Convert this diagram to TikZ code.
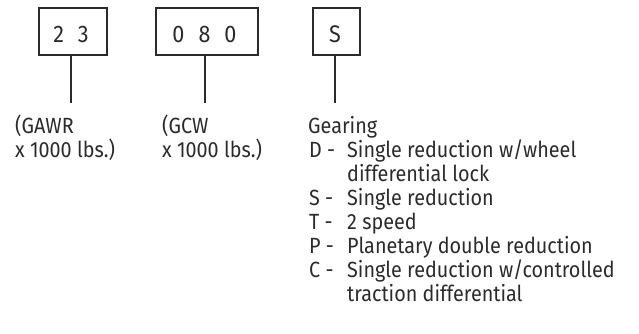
\documentclass[tikz,border=0pt]{standalone}
\usepackage{fontspec}
\setmainfont{Fira Sans}[FakeStretch=0.9]
\definecolor{ink}{HTML}{2B2B2B}
\begin{document}
\begin{tikzpicture}[x=1pt,y=-1pt,color=ink,
  box/.style={draw=ink,line width=2.2pt,inner sep=0pt},
  lead/.style={draw=ink,line width=2pt},
  txt/.style={anchor=base west,inner sep=0pt,text=ink,font=\fontsize{22}{24}\selectfont},
  code/.style={anchor=base,inner sep=0pt,text=ink,font=\fontsize{24}{24}\selectfont}]
\useasboundingbox (0,0) rectangle (639,333);
\node[box,minimum width=68,minimum height=47] (b1) at (73,31.5) {};
\node[code] (t1) at (71,42) {2\hspace{14pt}3};
\node[box,minimum width=102,minimum height=47] (b2) at (207,31.5) {};
\node[code] (t2) at (204.5,42) {0\hspace{14pt}8\hspace{14pt}0};
\node[box,minimum width=47,minimum height=47] (b3) at (336.5,31.5) {};
\node[code] (t3) at (335,42) {S};
\coordinate (e1) at (71,103);
\coordinate (e2) at (205,103);
\coordinate (e3) at (335,103);
\draw[lead] (b1.south -| e1) -- (e1);
\draw[lead] (b2.south -| e2) -- (e2);
\draw[lead] (b3.south -| e3) -- (e3);
\node[txt] (l1a) at (15,133) {(GAWR};
\node[txt] (l1b) at (15,157) {x 1000 lbs.)};
\node[txt] (l2a) at (162,133) {(GCW};
\node[txt] (l2b) at (162,157) {x 1000 lbs.)};
\node[txt] (g0) at (308,133) {Gearing};
\node[txt] (gD) at (309,157) {D -};
\node[txt] (gDt) at (347,157) {Single reduction w/wheel};
\node[txt] (gD2) at (347,181) {differential lock};
\node[txt] (gS) at (309,205) {S -};
\node[txt] (gSt) at (347,205) {Single reduction};
\node[txt] (gT) at (309,229) {T -};
\node[txt] (gTt) at (347,229) {2 speed};
\node[txt] (gP) at (309,253) {P -};
\node[txt] (gPt) at (347,253) {Planetary double reduction};
\node[txt] (gC) at (309,277) {C -};
\node[txt] (gCt) at (347,277) {Single reduction w/controlled};
\node[txt] (gC2) at (347,301) {traction differential};
\end{tikzpicture}
\end{document}
